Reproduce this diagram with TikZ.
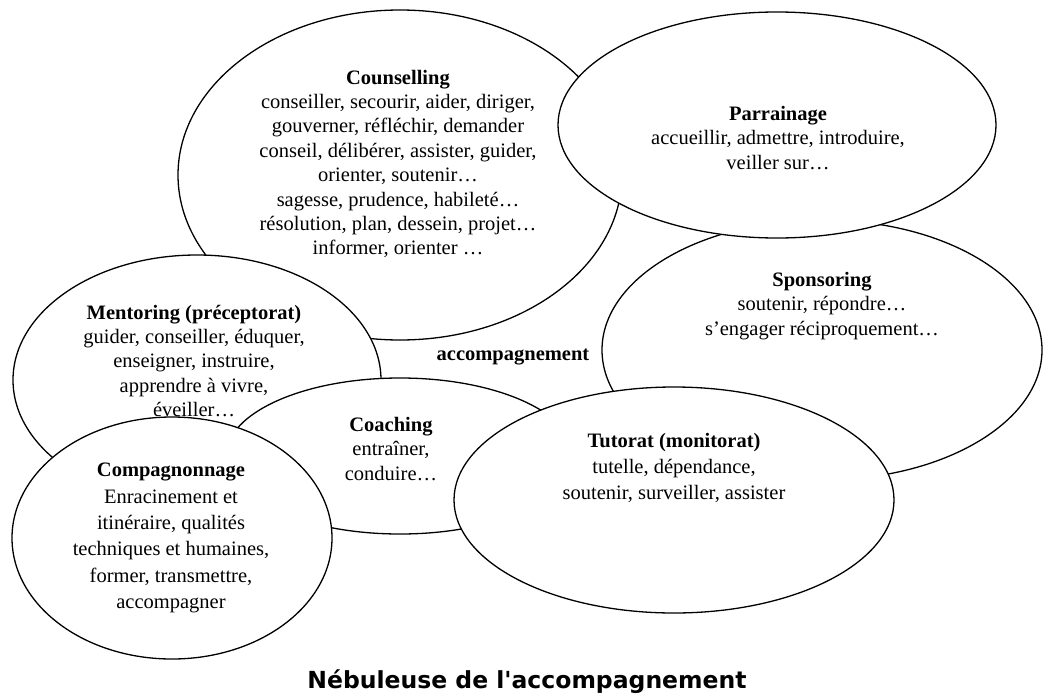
\documentclass[tikz,border=0pt]{standalone}
\usepackage{fontspec}
\setmainfont{Liberation Serif}
\newfontfamily\titlefont{DejaVu Sans}
\usetikzlibrary{shapes.geometric}
\begin{document}
\begin{tikzpicture}[x=1pt,y=-1pt,
  bubble/.style={ellipse, draw=black, line width=1.3pt, fill=white, inner sep=0pt, outer sep=0pt},
  words/.style={align=center, inner sep=0pt, font=\fontsize{20.5}{24.4}\selectfont},
  wordswide/.style={align=center, inner sep=0pt, font=\fontsize{20.5}{26.3}\selectfont},
  heading/.style={inner sep=0pt, font=\fontsize{20.5}{24.4}\selectfont\bfseries},
  titletext/.style={inner sep=0pt, anchor=base, font=\titlefont\fontsize{23.5}{28}\selectfont\bfseries}
]
\useasboundingbox (0,0) rectangle (1043,696);
% ellipses, back to front
\node[bubble, minimum width=444pt, minimum height=330pt] (counselling) at (400,175) {};
\node[bubble, minimum width=440pt, minimum height=260pt] (sponsoring) at (822,350) {};
\node[bubble, minimum width=438pt, minimum height=226pt] (parrainage) at (777,125) {};
\node[bubble, minimum width=368pt, minimum height=250pt] (mentoring) at (197,380) {};
\node[bubble, minimum width=348pt, minimum height=156pt] (coaching) at (400,456) {};
\node[bubble, minimum width=320pt, minimum height=242pt] (compagnonnage) at (172,538) {};
\node[bubble, minimum width=440pt, minimum height=226pt] (tutorat) at (674,500) {};
% texts
\node[words] (tcounselling) at (398,164) {\textbf{Counselling}\\conseiller, secourir, aider, diriger,\\gouverner, réfléchir, demander\\conseil, délibérer, assister, guider,\\orienter, soutenir…\\sagesse, prudence, habileté…\\résolution, plan, dessein, projet…\\informer, orienter …};
\node[words] (tparrainage) at (778,138) {\textbf{Parrainage}\\accueillir, admettre, introduire,\\veiller sur…};
\node[words] (tsponsoring) at (822,306) {\textbf{Sponsoring}\\soutenir, répondre…\\s'engager réciproquement…};
\node[words] (tmentoring) at (194,361) {\textbf{Mentoring (préceptorat)}\\guider, conseiller, éduquer,\\enseigner, instruire,\\apprendre à vivre,\\éveiller…};
\node[words] (tcoaching) at (391,449) {\textbf{Coaching}\\entraîner,\\conduire…};
\node[wordswide] (ttutorat) at (674,468) {\textbf{Tutorat (monitorat)}\\tutelle, dépendance,\\soutenir, surveiller, assister};
\node[wordswide] (tcompagnonnage) at (171,538) {\textbf{Compagnonnage}\\Enracinement et\\itinéraire, qualités\\techniques et humaines,\\former, transmettre,\\accompagner};
\node[heading] (accomp) at (513,357) {accompagnement};
\node[titletext] (title) at (527,688) {Nébuleuse de l'accompagnement};
\end{tikzpicture}
\end{document}
